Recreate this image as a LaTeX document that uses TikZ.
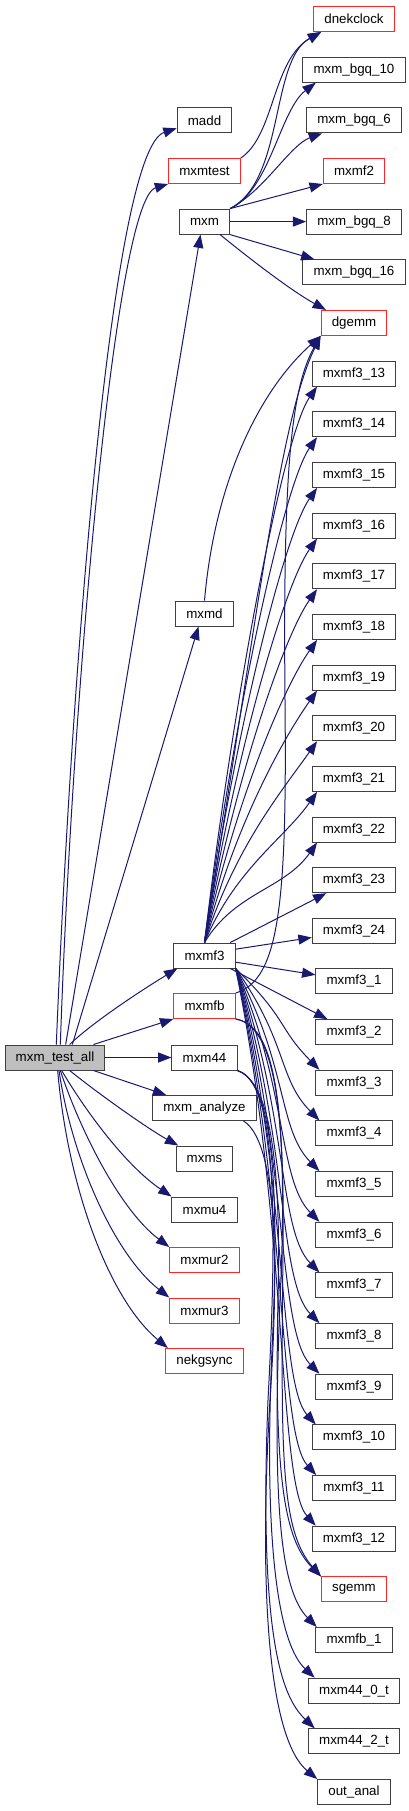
\documentclass[tikz,border=0pt]{standalone}
\usepackage{fontspec}
\setmainfont{Liberation Sans}
\usetikzlibrary{arrows.meta}
\definecolor{callblue}{HTML}{191970}
\tikzset{
  fn/.style={draw=black!75, fill=white, line width=0.75pt, minimum height=18.75pt,
    inner xsep=8pt, inner ysep=0pt, font=\fontsize{10}{12}\selectfont},
  fnred/.style={fn, draw=red!85},
  fnroot/.style={fn, fill=black!25},
  call/.style={callblue, line width=0.75pt, -{Triangle[length=10pt,width=7.5pt]}}
}
\begin{document}
\begin{tikzpicture}[x=0.75pt,y=-0.75pt]
  \useasboundingbox (0,0) rectangle (409,1811);
  % caller
  \node[fnroot] (testall) at (55,1057.5) {mxm\_test\_all};
  % middle column
  \node[fn]    (madd)     at (204.5,120.3)  {madd};
  \node[fnred] (mxmtest)  at (204.5,171)    {mxmtest};
  \node[fn]    (mxm)      at (204.5,221.6)  {mxm};
  \node[fn]    (mxmd)     at (204.5,613.5)  {mxmd};
  \node[fn]    (mxmf3)    at (204.5,955.5)  {mxmf3};
  \node[fnred] (mxmfb)    at (204.5,1006)   {mxmfb};
  \node[fn]    (mxm44)    at (204.5,1057.5) {mxm44};
  \node[fn]    (analyze)  at (204.5,1108)   {mxm\_analyze};
  \node[fn]    (mxms)     at (204.5,1158.5) {mxms};
  \node[fn]    (mxmu4)    at (204.5,1209.5) {mxmu4};
  \node[fnred] (mxmur2)   at (204.5,1260)   {mxmur2};
  \node[fnred] (mxmur3)   at (204.5,1310.5) {mxmur3};
  \node[fnred] (nekgsync) at (204.5,1361)   {nekgsync};
  % right column, one row every 50.657
  \node[fnred] (dnekclock) at (354,19)    {dnekclock};
  \node[fn]    (bgq10)     at (354,69.7)  {mxm\_bgq\_10};
  \node[fn]    (bgq6)      at (354,120.3) {mxm\_bgq\_6};
  \node[fnred] (mxmf2)     at (354,171)   {mxmf2};
  \node[fn]    (bgq8)      at (354,221.6) {mxm\_bgq\_8};
  \node[fn]    (bgq16)     at (354,272.3) {mxm\_bgq\_16};
  \node[fnred] (dgemm)     at (354,322.9) {dgemm};
  \foreach \n [count=\i from 7] in {13,...,24}
    \node[fn] (f\n) at (354,{19+50.657*\i}) {mxmf3\_\n};
  \foreach \n [count=\i from 19] in {1,...,12}
    \node[fn] (f\n) at (354,{19+50.657*\i}) {mxmf3\_\n};
  \node[fnred] (sgemm)   at (354,1589.4) {sgemm};
  \node[fn]    (fb1)     at (354,1640)   {mxmfb\_1};
  \node[fn]    (m44a)    at (354,1690.7) {mxm44\_0\_t};
  \node[fn]    (m44b)    at (354,1741.3) {mxm44\_2\_t};
  \node[fn]    (outanal) at (354,1792)   {out\_anal};

  % calls of mxm_test_all
  \draw[call] ([xshift=1pt]testall.north) .. controls (70,700) and (110,150) .. ([yshift=-6pt]madd.west);
  \draw[call] ([xshift=4pt]testall.north) .. controls (72,700) and (115,200) .. (mxmtest.south west);
  \draw[call] ([xshift=8pt]testall.north) -- ([xshift=-3pt]mxm.south);
  \draw[call] ([xshift=13pt]testall.north) -- ([xshift=-4.5pt]mxmd.south);
  \draw[call] ([xshift=11pt]testall.north) .. controls (95,1020) and (150,985) .. ([xshift=3pt]mxmf3.south west);
  \draw[call] ([xshift=-9pt]testall.north east) -- (mxmfb.south west);
  \draw[call] (testall.east) -- (mxm44.west);
  \draw[call] ([xshift=-9pt]testall.south east) -- ([xshift=10.5pt]analyze.north west);
  \draw[call] ([xshift=11pt]testall.south) .. controls (100,1095) and (150,1130) .. ([xshift=2pt]mxms.north west);
  \draw[call] ([xshift=5pt]testall.south) .. controls (85,1110) and (125,1165) .. (mxmu4.north west);
  \draw[call] ([xshift=4pt]testall.south) .. controls (80,1130) and (120,1210) .. (mxmur2.north west);
  \draw[call] ([xshift=3pt]testall.south) .. controls (72,1160) and (115,1255) .. (mxmur3.north west);
  \draw[call] ([xshift=2pt]testall.south) .. controls (68,1190) and (110,1300) .. ([xshift=2pt]nekgsync.north west);

  % calls of mxmtest, mxm, mxmd
  \draw[call] (mxmtest.north east) .. controls (275,135) and (272,60) .. ([xshift=6pt]dnekclock.south west);
  \draw[call] (mxm.north east) .. controls (285,180) and (270,60) .. ([xshift=6pt]dnekclock.south west);
  \draw[call] (mxm.north east) .. controls (270,190) and (280,110) .. ([xshift=10pt]bgq10.south west);
  \draw[call] (mxm.north east) .. controls (265,190) and (290,145) .. ([xshift=12pt]bgq6.south west);
  \draw[call] (mxm.north east) -- (mxmf2.south west);
  \draw[call] (mxm.east) -- (bgq8.west);
  \draw[call] (mxm.south east) -- ([xshift=9pt]bgq16.north west);
  \draw[call] ([xshift=-7.5pt]mxm.south east) .. controls (245,255) and (290,290) .. ([xshift=4pt]dgemm.north west);
  \draw[call] (mxmd.north) .. controls (215,480) and (260,390) .. (dgemm.south west);

  % calls of mxmf3
  \draw[call] (mxmf3.north) .. controls (260,600) and (280,420) .. (dgemm.south west);
  \foreach \n [count=\i from 7] in {13,...,22} {
    \pgfmathsetmacro\yt{19+50.657*\i}
    \draw[call] (mxmf3.north) .. controls (235,{943-0.45*(943-\yt)}) and (284,{\yt+60}) .. ([xshift=4pt]f\n.south west);
  }
  \draw[call] ([xshift=-4pt]mxmf3.north east) -- ([xshift=11pt]f23.south west);
  \draw[call] ([yshift=-5pt]mxmf3.north east) -- ([yshift=-5pt]f24.west);
  \draw[call] ([yshift=-5pt]mxmf3.east) -- ([yshift=5pt]f1.west);
  \draw[call] ([xshift=-4pt]mxmf3.south east) -- ([xshift=9pt]f2.north west);
  \foreach \n [count=\i from 21] in {3,...,12} {
    \pgfmathsetmacro\yt{19+50.657*\i}
    \draw[call] (mxmf3.south east) .. controls (288,{968+0.45*(\yt-968)}) and (278,{\yt-55}) .. ([xshift=3pt]f\n.north west);
  }

  % calls of mxmfb, mxm44, mxm_analyze
  \draw[call] (mxmfb.north east) .. controls (280,980) and (287,900) .. (285,700)
    .. controls (283,480) and (290,390) .. (dgemm.south west);
  \draw[call] (mxmfb.south east) .. controls (270,1025) and (285,1080) .. (283,1250)
    .. controls (281,1450) and (280,1530) .. (sgemm.north west);
  \draw[call] (mxmfb.south east) .. controls (270,1025) and (290,1090) .. (280,1300)
    .. controls (272,1500) and (280,1590) .. ([xshift=1pt]fb1.north west);
  \draw[call] (mxm44.south east) .. controls (265,1080) and (282,1140) .. (278,1300)
    .. controls (274,1480) and (285,1540) .. (sgemm.north west);
  \draw[call] (mxm44.south east) .. controls (265,1080) and (282,1140) .. (272,1350)
    .. controls (262,1580) and (285,1650) .. ([xshift=5pt]m44a.north west);
  \draw[call] (mxm44.south east) .. controls (265,1080) and (282,1140) .. (268,1400)
    .. controls (258,1650) and (285,1700) .. ([xshift=5pt]m44b.north west);
  \draw[call] ([xshift=-10pt]analyze.south east) .. controls (275,1140) and (280,1250) .. (270,1400)
    .. controls (258,1600) and (270,1740) .. (outanal.north west);
\end{tikzpicture}
\end{document}
